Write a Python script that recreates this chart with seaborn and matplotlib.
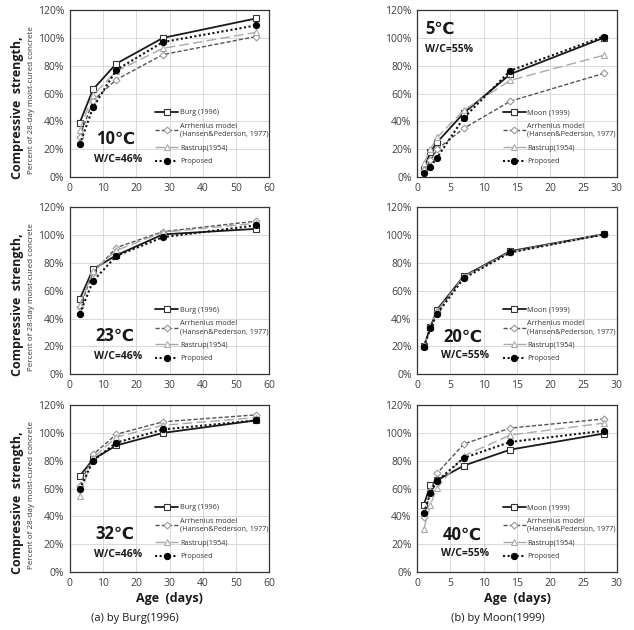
import numpy as np
import pandas as pd
import matplotlib
matplotlib.use("Agg")
import matplotlib.pyplot as plt
import seaborn as sns

# ages (days)
age_burg = [3, 7, 14, 28, 56]
age_moon = [1, 2, 3, 7, 14, 28]

# (a) Burg(1996), W/C=46%  -- percent of 28-day moist-cured strength
burg_10 = [39, 63, 81.5, 100, 114]
arrh_10 = [29, 55, 70, 88, 101]
rast_10 = [34, 59, 76, 92.5, 104]
prop_10 = [23.5, 50, 77, 97, 109]

burg_23 = [54, 75.5, 85.5, 100.5, 104.5]
arrh_23 = [48, 73, 91, 102.5, 110]
rast_23 = [50, 74, 89, 102, 108.5]
prop_23 = [43.5, 67, 85, 98.5, 107]

burg_32 = [69, 81, 91, 100, 109]
arrh_32 = [62, 84.5, 99, 108, 113]
rast_32 = [55, 82, 97, 105.5, 111]
prop_32 = [59.5, 80, 93, 102.5, 109]

# (b) Moon(1999), W/C=55%
moon_5 = [6, 18, 25, 46, 74, 100]
arrh_5 = [5, 12, 20, 35, 54.5, 74.5]
rast_5 = [10, 20, 28.5, 48, 69.5, 87.5]
prop_5 = [3, 7.5, 14, 42.5, 76.5, 101]

moon_20 = [20, 34, 46.5, 70.5, 88.5, 100.5]
arrh_20 = [20, 34, 45, 70, 88, 100.5]
rast_20 = [20, 34.5, 45.5, 70, 88, 100.5]
prop_20 = [19.5, 33, 43.5, 69, 87.5, 100.5]

moon_40 = [48.5, 62.5, 66, 76.5, 88, 99.5]
arrh_40 = [39.5, 58, 71, 92, 103.5, 110]
rast_40 = [31, 48.5, 60.5, 83.5, 98.5, 107]
prop_40 = [42.5, 57, 65.5, 82, 93.5, 101.5]

temps_left = ["10℃", "23℃", "32℃"]
temps_right = ["5℃", "20℃", "40℃"]
wc_left = "W/C=46%"
wc_right = "W/C=55%"

sns.set_style("white")
plt.rcParams['font.family'] = ['Open Sans', 'DejaVu Sans']

fig = plt.figure(figsize=(6.34, 6.30), dpi=100)

rows_y = [0.719, 0.406, 0.092]
h = 0.265
w = 0.315
left_x = 0.110
right_x = 0.658


def draw_panel(ax, ages, ref, arrh, rast, prop, ref_name, xmax, xstep, temp, wc, temp_pos, wc_pos):
    sns.lineplot(x=ages, y=ref, ax=ax, color="#1a1a1a", lw=1.3, marker="s",
                 markersize=4.5, markerfacecolor="white", markeredgecolor="#333333",
                 markeredgewidth=0.8, label=ref_name)
    sns.lineplot(x=ages, y=arrh, ax=ax, color="#555555", lw=1.0, linestyle=(0, (3, 1.5)),
                 marker="D", markersize=3.5, markerfacecolor="white", markeredgecolor="#999999",
                 markeredgewidth=0.8, label="Arrhenius model\n(Hansen&Pederson, 1977)")
    sns.lineplot(x=ages, y=rast, ax=ax, color="#aaaaaa", lw=1.0, linestyle=(0, (7, 3)),
                 marker="^", markersize=5, markerfacecolor="white", markeredgecolor="#aaaaaa",
                 markeredgewidth=0.8, label="Rastrup(1954)")
    sns.lineplot(x=ages, y=prop, ax=ax, color="#111111", lw=1.5, linestyle=(0, (1, 1.2)),
                 marker="o", markersize=4.5, markerfacecolor="black", markeredgecolor="black",
                 label="Proposed")
    ax.set_xlim(0, xmax)
    ax.set_ylim(0, 120)
    ax.set_xticks(np.arange(0, xmax + 1, xstep))
    ax.set_yticks(np.arange(0, 121, 20))
    ax.set_yticklabels([f"{v}%" for v in range(0, 121, 20)])
    ax.grid(True, color="#d9d9d9", lw=0.7)
    ax.set_axisbelow(True)
    for s in ax.spines.values():
        s.set_color("#333333")
        s.set_linewidth(0.9)
    ax.tick_params(axis="both", length=0, labelsize=7.5, labelcolor="#404040", pad=4)
    ax.set_xlabel("")
    ax.set_ylabel("")
    ax.legend(loc="lower left", bbox_to_anchor=(0.41, 0.05), frameon=False, fontsize=5.2,
              handlelength=3.2, labelspacing=0.9, handletextpad=0.2, borderpad=0,
              labelcolor="#333333")
    ax.text(temp_pos[0], temp_pos[1], temp, transform=ax.transAxes, fontsize=12,
            fontweight="bold", va="center", ha="left", color="#1a1a1a")
    ax.text(wc_pos[0], wc_pos[1], wc, transform=ax.transAxes, fontsize=7.5,
            fontweight="bold", va="center", ha="left", color="#1a1a1a")


left_data = [(burg_10, arrh_10, rast_10, prop_10),
             (burg_23, arrh_23, rast_23, prop_23),
             (burg_32, arrh_32, rast_32, prop_32)]
right_data = [(moon_5, arrh_5, rast_5, prop_5),
              (moon_20, arrh_20, rast_20, prop_20),
              (moon_40, arrh_40, rast_40, prop_40)]

for i, y0 in enumerate(rows_y):
    axl = fig.add_axes([left_x, y0, w, h])
    draw_panel(axl, age_burg, *left_data[i], "Burg (1996)", 60, 10,
               temps_left[i], wc_left, (0.13, 0.23), (0.12, 0.105))
    # y labels
    yc = y0 + h / 2
    fig.text(0.028, yc - 0.022, "Compressive  strength,", rotation=90, fontsize=9,
             fontweight="bold", ha="center", va="center", color="#1a1a1a")
    fig.text(0.050, yc - 0.01, "Percent of 28-day moist-cured concrete", rotation=90,
             fontsize=5.8, ha="center", va="center", color="#333333")

    axr = fig.add_axes([right_x, y0, w, h])
    if i == 0:
        tpos, wpos = (0.04, 0.89), (0.04, 0.765)
    else:
        tpos, wpos = (0.13, 0.225), (0.12, 0.11)
    draw_panel(axr, age_moon, *right_data[i], "Moon (1999)", 30, 5,
               temps_right[i], wc_right, tpos, wpos)

fig.text(left_x + w / 2, 0.050, "Age  (days)", fontsize=9, fontweight="bold",
         ha="center", va="center", color="#1a1a1a")
fig.text(right_x + w / 2, 0.050, "Age  (days)", fontsize=9, fontweight="bold",
         ha="center", va="center", color="#1a1a1a")
fig.text(0.213, 0.019, "(a) by Burg(1996)", fontsize=8, ha="center", va="center", color="#1a1a1a")
fig.text(0.785, 0.019, "(b) by Moon(1999)", fontsize=8, ha="center", va="center", color="#1a1a1a")

fig.savefig("out.png", dpi=100, facecolor="white")
